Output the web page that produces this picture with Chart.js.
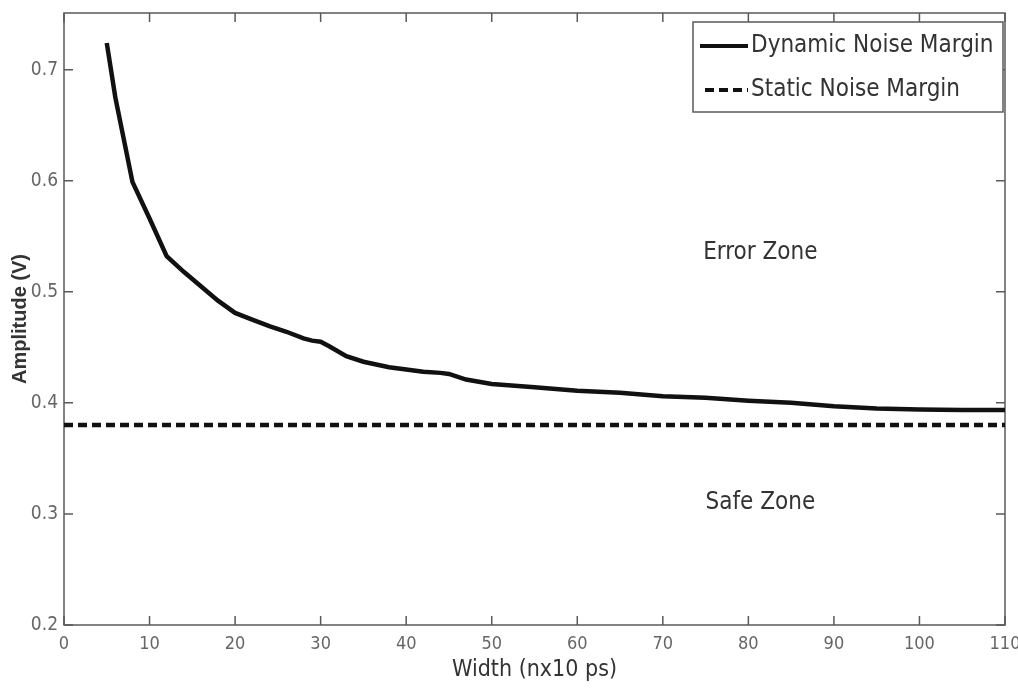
<!DOCTYPE html>
<html>
<head>
<meta charset="utf-8">
<title>Noise margin vs width</title>
<script src="https://cdn.jsdelivr.net/npm/chart.js@4.4.1/dist/chart.umd.min.js"></script>
<style>
  html, body { margin: 0; padding: 0; background: #fff; }
  #wrap { width: 1018px; height: 689px; position: relative; }
</style>
</head>
<body>
<div id="wrap"><canvas id="chart"></canvas></div>
<script>
// values
const widthValues = [5, 6, 8, 10, 12, 14, 16, 18, 20, 22, 24, 26, 28, 29, 30, 31, 33, 35, 38, 40, 42, 44, 45, 47, 50, 55, 60, 65, 70, 75, 80, 85, 90, 95, 100, 105, 110];
const dynamicMargin = [0.724, 0.675, 0.599, 0.566, 0.532, 0.518, 0.505, 0.492, 0.481, 0.475, 0.469, 0.464, 0.458, 0.456, 0.455, 0.451, 0.442, 0.437, 0.432, 0.430, 0.428, 0.427, 0.426, 0.421, 0.417, 0.414, 0.411, 0.409, 0.406, 0.4045, 0.402, 0.400, 0.397, 0.395, 0.394, 0.3935, 0.3935];
const staticWidth = [0, 110];
const staticMargin = [0.38, 0.38];
const xTicks = [0, 10, 20, 30, 40, 50, 60, 70, 80, 90, 100, 110];
const yTicks = [0.2, 0.3, 0.4, 0.5, 0.6, 0.7];
const seriesNames = ['Dynamic Noise Margin', 'Static Noise Margin'];
const zoneNames = ['Error Zone', 'Safe Zone'];

const narrow = '"Liberation Sans Narrow", "DejaVu Sans Condensed", "Liberation Sans", Arial, sans-serif';
const axisGrey = '#5a5a5a';

const toPoints = (xs, ys) => xs.map((v, i) => ({ x: v, y: ys[i] }));

// box round the plot, inward tick marks, zone texts and the legend
const framePlugin = {
    id: 'frame',
    beforeDatasetsDraw(chart) {
        const { ctx, chartArea: a, scales } = chart;
        const x = scales.x, y = scales.y;
        ctx.save();
        ctx.strokeStyle = axisGrey;
        ctx.lineWidth = 1.5;
        ctx.strokeRect(a.left, a.top, a.right - a.left, a.bottom - a.top);
        ctx.beginPath();
        xTicks.forEach(v => {
            const px = x.getPixelForValue(v);
            ctx.moveTo(px, a.bottom); ctx.lineTo(px, a.bottom - 9);
            ctx.moveTo(px, a.top); ctx.lineTo(px, a.top + 9);
        });
        yTicks.forEach(v => {
            const py = y.getPixelForValue(v);
            ctx.moveTo(a.left, py); ctx.lineTo(a.left + 9, py);
            ctx.moveTo(a.right, py); ctx.lineTo(a.right - 9, py);
        });
        ctx.stroke();

        const opts = chart.options.plugins.frame;
        ctx.fillStyle = '#333';
        ctx.font = '24px ' + narrow;
        ctx.textAlign = 'center';
        ctx.textBaseline = 'middle';
        opts.zones.forEach((z, i) => {
            ctx.fillText(zoneNames[i], x.getPixelForValue(z.x), y.getPixelForValue(z.y));
        });
        ctx.restore();
    },
    afterDraw(chart) {
        const { ctx, chartArea: a } = chart;
        const bw = 310, bh = 90;
        const bx = a.right - 2 - bw, by = a.top + 9;
        ctx.save();
        ctx.fillStyle = '#fff';
        ctx.fillRect(bx, by, bw, bh);
        ctx.strokeStyle = axisGrey;
        ctx.lineWidth = 1.5;
        ctx.strokeRect(bx, by, bw, bh);
        ctx.font = '24px ' + narrow;
        ctx.textAlign = 'left';
        ctx.textBaseline = 'middle';
        chart.data.datasets.forEach((ds, i) => {
            const ly = by + 24 + i * 44;
            ctx.strokeStyle = '#111';
            ctx.lineWidth = 4;
            ctx.setLineDash(ds.borderDash || []);
            ctx.beginPath();
            ctx.moveTo(bx + (i ? 12 : 7), ly);
            ctx.lineTo(bx + 55, ly);
            ctx.stroke();
            ctx.setLineDash([]);
            ctx.fillStyle = '#333';
            ctx.fillText(ds.label, bx + 58, ly);
        });
        ctx.restore();
    }
};

const ctx = document.getElementById('chart').getContext('2d');
const chart = new Chart(ctx, {
    type: 'line',
    data: {
        datasets: [{
            label: seriesNames[0],
            data: toPoints(widthValues, dynamicMargin),
            borderColor: '#111',
            borderWidth: 4.5,
            pointRadius: 0,
            tension: 0,
            fill: false
        }, {
            label: seriesNames[1],
            data: toPoints(staticWidth, staticMargin),
            borderColor: '#111',
            borderWidth: 4.5,
            borderDash: [9, 5],
            pointRadius: 0,
            fill: false
        }]
    },
    options: {
        responsive: true,
        maintainAspectRatio: false,
        animation: false,
        layout: { padding: { top: 13, right: 13, left: 0, bottom: 0 } },
        plugins: {
            legend: { display: false },
            tooltip: { enabled: false },
            frame: { zones: [{ x: 81.4, y: 0.535 }, { x: 81.4, y: 0.31 }] }
        },
        scales: {
            x: {
                type: 'linear',
                min: 0,
                max: 110,
                afterBuildTicks: axis => { axis.ticks = xTicks.map(v => ({ value: v })); },
                afterFit: axis => { axis.height = 64; axis.paddingLeft = 0; axis.paddingRight = 0; },
                grid: { display: false, drawTicks: false },
                border: { display: false },
                ticks: { color: '#666', font: { family: narrow, size: 18 }, padding: 9, maxRotation: 0 },
                title: { display: true, text: 'Width (nx10 ps)', color: '#333', font: { family: narrow, size: 23 }, padding: { top: 0, bottom: 5 } }
            },
            y: {
                type: 'linear',
                min: 0.2,
                max: 0.751,
                afterBuildTicks: axis => { axis.ticks = yTicks.map(v => ({ value: v })); },
                afterFit: axis => { axis.width = 64; axis.paddingTop = 0; axis.paddingBottom = 0; },
                grid: { display: false, drawTicks: false },
                border: { display: false },
                ticks: { color: '#666', font: { family: narrow, size: 19 }, padding: 6, callback: v => v.toFixed(1) },
                title: { display: true, text: 'Amplitude (V)', color: '#333', font: { family: '"Liberation Sans", Arial, sans-serif', size: 20, weight: 'bold' }, padding: { top: 8, bottom: 0 } }
            }
        }
    },
    plugins: [framePlugin]
});
</script>
</body>
</html>
